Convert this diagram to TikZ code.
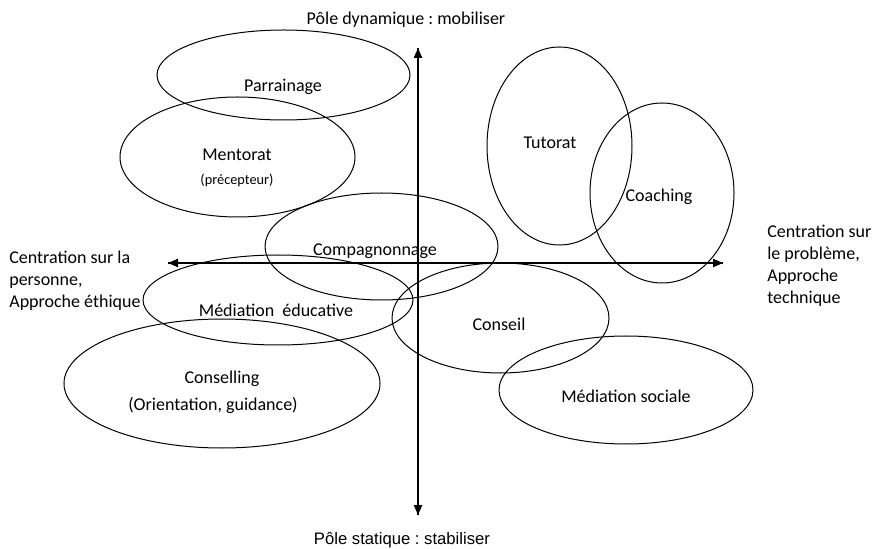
\documentclass[tikz,border=0pt]{standalone}
\usepackage{fontspec}
\setmainfont{Carlito}
\newfontfamily\arialfont{Liberation Sans}
\usepackage{tikz}
\usetikzlibrary{arrows.meta}
\frenchspacing

\begin{document}
\begin{tikzpicture}[x=0.6pt,y=-0.6pt,>={Triangle[length=6pt,width=5pt]},
    every node/.style={font=\fontsize{10.8}{13.2}\selectfont,inner sep=0pt},
    zone/.style={draw,line width=0.6pt},
    axe/.style={->,line width=0.7pt},
    pole/.style={align=left,anchor=west},
    note/.style={font=\fontsize{8.6}{10}\selectfont}]
    \useasboundingbox (0,0) rectangle (872,549);
    % axes
    \coordinate (haut) at (418,48);
    \coordinate (bas) at (418,515);
    \coordinate (gauche) at (168,263);
    \coordinate (droite) at (723,263);
    \draw[axe] (bas) -- (haut);
    \draw[axe] (haut) -- (bas);
    \draw[axe] (droite) -- (gauche);
    \draw[axe] (gauche) -- (droite);
    % ellipses
    \draw[zone] (283.5,75) ellipse [x radius=126.5,y radius=45];
    \draw[zone] (237.5,157) ellipse [x radius=117.5,y radius=60];
    \draw[zone] (381.5,246.5) ellipse [x radius=116.5,y radius=53.5];
    \draw[zone] (278,300) ellipse [x radius=135,y radius=45];
    \draw[zone] (222,383.5) ellipse [x radius=158,y radius=64.5];
    \draw[zone] (559.5,146) ellipse [x radius=72.5,y radius=99];
    \draw[zone] (662,193) ellipse [x radius=72,y radius=90];
    \draw[zone] (500.5,318) ellipse [x radius=108.5,y radius=55];
    \draw[zone] (626,390) ellipse [x radius=127,y radius=54];
    % textes
    \node (parrainage) at (283,87) {Parrainage};
    \node (mentorat) at (237,155) {Mentorat};
    \node[note] (precepteur) at (237,180) {(précepteur)};
    \node (compagnonnage) at (375,251) {Compagnonnage};
    \node (mediationedu) at (276,310) {Médiation\ \ éducative};
    \node (conselling) at (222,379) {Conselling};
    \node (orientation) at (213,405) {(Orientation, guidance)};
    \node (tutorat) at (550,143) {Tutorat};
    \node (coaching) at (659,197) {Coaching};
    \node (conseil) at (499,324) {Conseil};
    \node (mediationsoc) at (626,396) {Médiation sociale};
    % poles
    \node (dynamique) at (406,20) {Pôle dynamique : mobiliser};
    \node[font=\arialfont\fontsize{10}{12}\selectfont] (statique) at (402,540) {Pôle statique : stabiliser};
    \node[pole] (personne) at (9,281) {Centration sur la\\personne,\\Approche éthique};
    \node[pole] (probleme) at (767,266) {Centration sur\\le problème,\\Approche\\technique};
\end{tikzpicture}
\end{document}
